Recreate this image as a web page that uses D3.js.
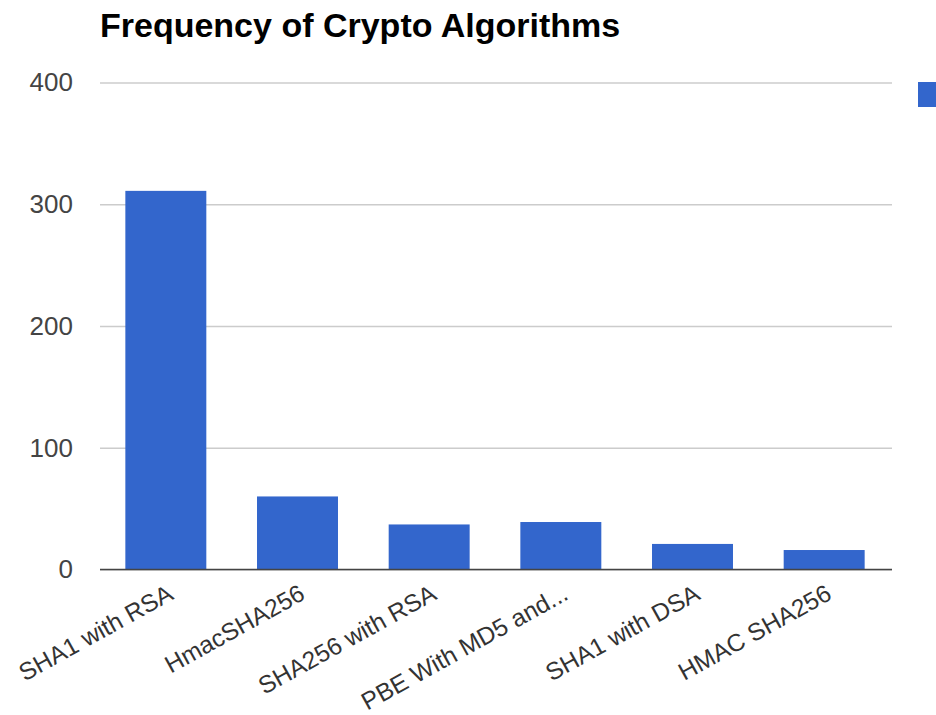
<!DOCTYPE html>
<html>
<head>
<meta charset="utf-8">
<script src="https://cdn.jsdelivr.net/npm/d3@7"></script>
<style>
  html, body { margin: 0; padding: 0; background: #fff; }
  svg { display: block; }
</style>
</head>
<body>
<svg id="chart" width="936" height="715"></svg>
<script>
const categories = ["SHA1 with RSA", "HmacSHA256", "SHA256 with RSA", "PBE With MD5 and...", "SHA1 with DSA", "HMAC SHA256"];
const values = [311, 60, 37, 39, 21, 16];
const yTicks = [0, 100, 200, 300, 400];
const title = "Frequency of Crypto Algorithms";

(function () {
const svg = d3.select("#chart");
const mLeft = 100, mRight = 890, mTop = 82.5, mBottom = 569.5;
const font = "'Liberation Sans', Arial, sans-serif";

const x = d3.scaleBand().domain(categories).range([mLeft, mRight]).paddingInner(0.385).paddingOuter(0.1925);
const y = d3.scaleLinear().domain([0, 400]).range([mBottom, mTop]);

// title
svg.append("text")
  .attr("x", 100).attr("y", 37)
  .attr("font-family", font).attr("font-weight", "bold").attr("font-size", 34)
  .attr("fill", "#000")
  .text(title);

// gridlines + y tick labels
const yAxis = d3.axisLeft(y).tickValues(yTicks).tickSize(-(mRight - mLeft + 2)).tickPadding(27);
const gy = svg.append("g").attr("transform", `translate(${mLeft},0)`).call(yAxis);
gy.select(".domain").remove();
gy.selectAll(".tick line").attr("stroke", "#cccccc").attr("stroke-width", 1.5);
gy.selectAll(".tick text")
  .attr("font-family", font).attr("font-size", 26).attr("fill", "#444");

// bars
svg.append("g").selectAll("rect").data(categories).join("rect")
  .attr("x", d => x(d))
  .attr("width", x.bandwidth())
  .attr("y", (d, i) => y(values[i]))
  .attr("height", (d, i) => y(0) - y(values[i]))
  .attr("fill", "#3366cc");

// baseline
svg.append("line")
  .attr("x1", mLeft).attr("x2", mRight + 2)
  .attr("y1", y(0)).attr("y2", y(0))
  .attr("stroke", "#444").attr("stroke-width", 1.5);

// x labels
const xAxis = d3.axisBottom(x).tickSize(0).tickPadding(0);
const gx = svg.append("g").attr("transform", `translate(0,${mBottom})`).call(xAxis);
gx.select(".domain").remove();
gx.selectAll(".tick text")
  .attr("font-family", font).attr("font-size", 24.5).attr("fill", "#333")
  .attr("text-anchor", "end")
  .attr("dy", null).attr("y", null)
  .attr("transform", "translate(9,29) rotate(-29)");

// legend (partially visible)
svg.append("rect").attr("x", 918).attr("y", 82).attr("width", 26).attr("height", 25).attr("fill", "#3366cc");
})();
</script>
</body>
</html>
